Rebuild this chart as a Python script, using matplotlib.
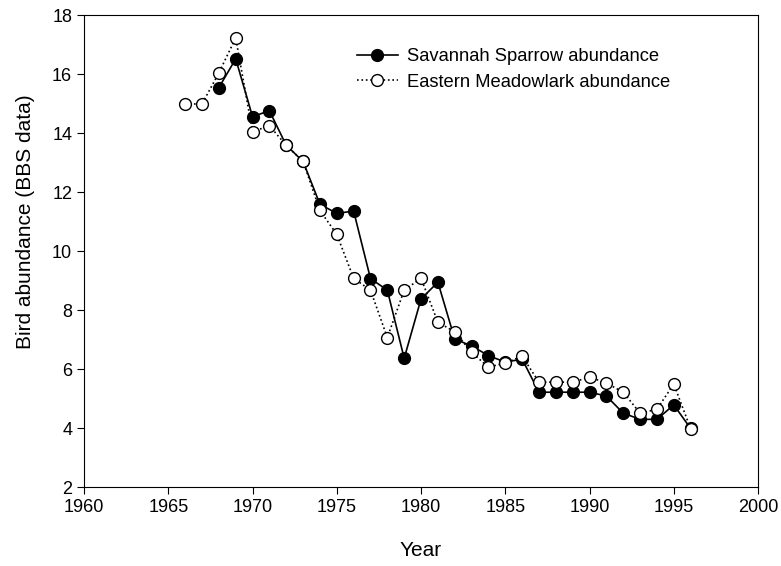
import matplotlib.pyplot as plt

plt.rcParams['font.family'] = ['Liberation Sans', 'DejaVu Sans']

years_ss = [1968, 1969, 1970, 1971, 1972, 1973, 1974, 1975, 1976, 1977, 1978,
            1979, 1980, 1981, 1982, 1983, 1984, 1985, 1986, 1987, 1988, 1989,
            1990, 1991, 1992, 1993, 1994, 1995, 1996]
savannah = [15.55, 16.53, 14.57, 14.77, 13.6, 13.05, 11.6, 11.29, 11.37, 9.08, 8.69,
            6.38, 8.39, 8.96, 7.03, 6.8, 6.47, 6.25, 6.35, 5.23, 5.23, 5.23,
            5.23, 5.1, 4.52, 4.31, 4.31, 4.8, 4.0]

years_em = [1966, 1967, 1968, 1969, 1970, 1971, 1972, 1973, 1974, 1975, 1976,
            1977, 1978, 1979, 1980, 1981, 1982, 1983, 1984, 1985, 1986, 1987,
            1988, 1989, 1990, 1991, 1992, 1993, 1994, 1995, 1996]
meadowlark = [15.0, 15.0, 16.05, 17.24, 14.06, 14.26, 13.6, 13.05, 11.39, 10.58, 9.09,
              8.69, 7.08, 8.69, 9.09, 7.6, 7.28, 6.58, 6.08, 6.22, 6.45, 5.57,
              5.57, 5.57, 5.74, 5.54, 5.23, 4.52, 4.65, 5.51, 3.99]

fig = plt.figure(figsize=(7.81, 5.66), dpi=100)
ax = fig.add_axes([0.1076, 0.1387, 0.863, 0.834])

ax.plot(years_ss, savannah, '-', color='black', lw=1.2, marker='o', ms=8.5,
        mfc='black', mec='black', label='Savannah Sparrow abundance', zorder=2)
ax.plot(years_em, meadowlark, ':', color='black', lw=1.2, marker='o', ms=8.5,
        mfc='white', mec='black', label='Eastern Meadowlark abundance', zorder=3)

ax.set_xlim(1960, 2000)
ax.set_ylim(2, 18)
ax.set_xticks(range(1960, 2001, 5))
ax.set_yticks(range(2, 19, 2))
ax.tick_params(direction='out', length=5, labelsize=13, top=False, right=False)
ax.set_xlabel('Year', fontsize=15, labelpad=18)
ax.set_ylabel('Bird abundance (BBS data)', fontsize=15)
ax.yaxis.set_label_coords(-0.073, 0.563)

ax.legend(loc='upper left', bbox_to_anchor=(0.381, 0.965), frameon=False,
          fontsize=13.2, handlelength=2.2, handletextpad=0.5, labelspacing=0.45)

fig.savefig('out.png', dpi=100)
